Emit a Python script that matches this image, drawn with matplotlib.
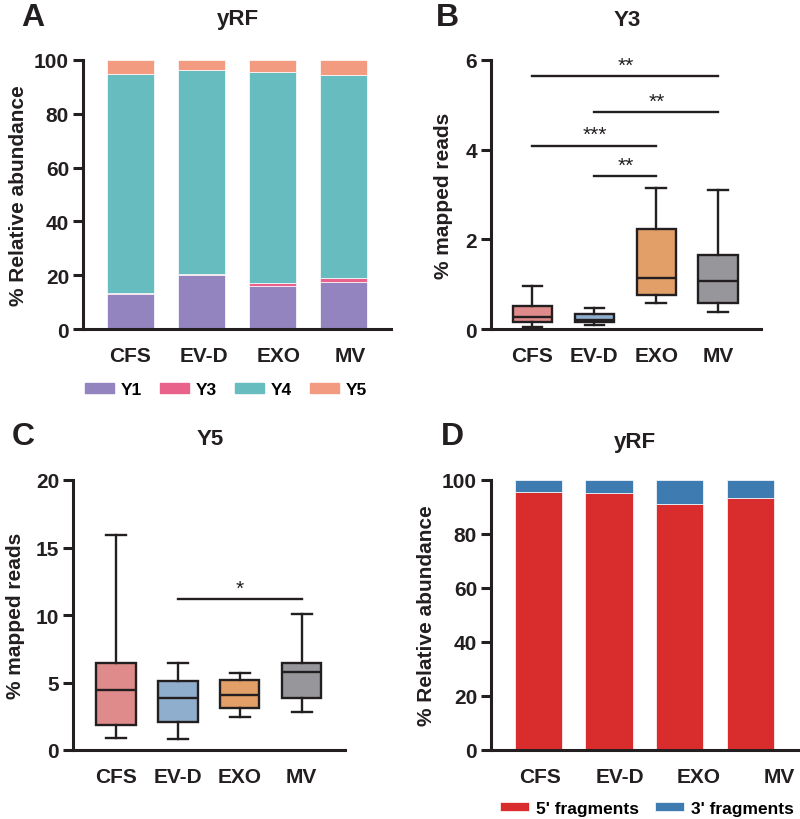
import numpy as np
import matplotlib.pyplot as plt
import matplotlib.patches as mpatches

plt.rcParams['font.family'] = ['Liberation Sans', 'DejaVu Sans']
plt.rcParams['font.weight'] = 'bold'
plt.rcParams['axes.labelweight'] = 'bold'

groups = ['CFS', 'EV-D', 'EXO', 'MV']

# panel A - yRF composition (%)
y1 = [13.0, 20.0, 15.9, 17.6]
y3 = [0.3, 0.4, 1.3, 1.4]
y4 = [81.5, 75.9, 78.5, 75.4]
y5 = [5.2, 3.7, 4.3, 5.6]

# panel B - Y3 % mapped reads (whislo, q1, med, q3, whishi)
y3_low = [0.05, 0.09, 0.58, 0.39]
y3_q1 = [0.16, 0.15, 0.76, 0.59]
y3_med = [0.26, 0.21, 1.13, 1.08]
y3_q3 = [0.51, 0.33, 2.23, 1.66]
y3_high = [0.95, 0.46, 3.14, 3.09]
y3_sig = [(0, 3, 5.65, '**'), (1, 3, 4.83, '**'), (0, 2, 4.09, '***'), (1, 2, 3.41, '**')]

# panel C - Y5 % mapped reads
y5_low = [0.87, 0.79, 2.47, 2.82]
y5_q1 = [1.83, 2.10, 3.09, 3.83]
y5_med = [4.43, 3.83, 4.10, 5.81]
y5_q3 = [6.48, 5.12, 5.19, 6.48]
y5_high = [15.95, 6.43, 5.74, 10.04]
y5_sig = [(1, 3, 11.17, '*')]

# panel D - 5' vs 3' fragments (%)
frag5 = [95.7, 95.2, 91.0, 93.2]
frag3 = [100 - v for v in frag5]

box_colors = ['#E08B8B', '#8FADCC', '#E39F68', '#97979B']
stack_colors = ['#9384BF', '#E9628C', '#67BCC0', '#F39B81']
frag_colors = ['#D92D2D', '#3E7BB0']

W, H = 800, 820
fig = plt.figure(figsize=(W / 100, H / 100), dpi=100)


def make_ax(l, r, top, bottom):
    return fig.add_axes([l / W, 1 - bottom / H, (r - l) / W, (bottom - top) / H])


def style(ax, ymax, step, ylabel):
    for s in ['top', 'right']:
        ax.spines[s].set_visible(False)
    for s in ['left', 'bottom']:
        ax.spines[s].set_linewidth(2.2)
        ax.spines[s].set_color('#231F20')
    ax.set_ylim(0, ymax)
    ax.set_yticks(np.arange(0, ymax + 0.001, step))
    ax.tick_params(axis='y', length=7, width=2.2, labelsize=15, pad=3, colors='#231F20')
    ax.tick_params(axis='x', length=0, labelsize=15, pad=12, colors='#231F20')
    ax.set_ylabel(ylabel, fontsize=15, color='#231F20')


def stats(lo, q1, med, q3, hi):
    return [dict(whislo=lo[i], q1=q1[i], med=med[i], q3=q3[i], whishi=hi[i], fliers=[])
            for i in range(len(lo))]


leg_kw = dict(ncol=4, frameon=False, fontsize=12.5, handlelength=1.65, handleheight=0.45,
              columnspacing=1.05, handletextpad=0.4)

x = np.arange(len(groups))

# ---- A
axA = make_ax(83, 391, 61, 330)
bottom = np.zeros(4)
handles = []
for vals, col, name in zip([y1, y3, y4, y5], stack_colors, ['Y1', 'Y3', 'Y4', 'Y5']):
    axA.bar(x, vals, 0.66, bottom=bottom, color=col, edgecolor='white', linewidth=0.5)
    bottom += np.array(vals)
    handles.append(mpatches.Patch(color=col, label=name))
style(axA, 100, 20, '% Relative abundance')
axA.set_xlim(-0.67, 3.67)
axA.set_xticks(x + np.array([0, 0.04, 0.08, 0.1]))
axA.set_xticklabels(groups)
axA.legend(handles=handles, loc='upper center', bbox_to_anchor=(0.465, -0.14), **leg_kw)
axA.yaxis.set_label_coords(-0.18, 0.5)

# ---- B and C box plots
def boxpanel(ax, st, ymax, step, sig):
    ax.bxp(st, positions=x, widths=0.64, patch_artist=True, showfliers=False,
           boxprops=dict(linewidth=1.7, edgecolor='#231F20'),
           medianprops=dict(color='#231F20', linewidth=1.7),
           whiskerprops=dict(color='#231F20', linewidth=1.7),
           capprops=dict(color='#231F20', linewidth=1.7), capwidths=0.32)
    for p, c in zip(ax.patches, box_colors):
        p.set_facecolor(c)
    style(ax, ymax, step, '% mapped reads')
    ax.set_xticks(x)
    ax.set_xticklabels(groups)
    for a, b, yv, txt in sig:
        ax.plot([a, b], [yv, yv], color='#231F20', lw=1.7, clip_on=False)
        ax.text((a + b) / 2, yv + ymax * 0.005, txt, ha='center', va='bottom',
                fontsize=15, fontweight='normal', color='#231F20')


axB = make_ax(491, 761, 61, 330)
boxpanel(axB, stats(y3_low, y3_q1, y3_med, y3_q3, y3_high), 6, 2, y3_sig)
axB.set_xlim(-0.67, 3.69)
axB.yaxis.set_label_coords(-0.14, 0.5)

axC = make_ax(73, 345, 481, 751)
boxpanel(axC, stats(y5_low, y5_q1, y5_med, y5_q3, y5_high), 20, 5, y5_sig)
axC.set_xlim(-0.69, 3.7)
axC.yaxis.set_label_coords(-0.175, 0.5)

# ---- D
axD = make_ax(491, 800, 481, 751)
axD.bar(x, frag5, 0.67, color=frag_colors[0], edgecolor='white', linewidth=0.5, label="5' fragments")
axD.bar(x, frag3, 0.67, bottom=frag5, color=frag_colors[1], edgecolor='white', linewidth=0.5,
        label="3' fragments")
style(axD, 100, 20, '% Relative abundance')
axD.set_xlim(-0.67, 3.7)
axD.set_xticks(x + np.array([0.03, 0.15, 0.27, 0.4]))
axD.set_xticklabels(groups)
axD.legend(loc='upper center', bbox_to_anchor=(0.505, -0.13), **dict(leg_kw, ncol=2, columnspacing=0.95))
axD.yaxis.set_label_coords(-0.178, 0.5)

# titles and panel letters
for xx, yy, t in [(238, 20, 'yRF'), (627, 20, 'Y3'), (210, 440, 'Y5'), (635, 443, 'yRF')]:
    fig.text(xx / W, 1 - yy / H, t, ha='center', va='center', fontsize=16, color='#231F20')
for xx, yy, t in [(33, 18, 'A'), (447, 18, 'B'), (23, 437, 'C'), (452, 437, 'D')]:
    fig.text(xx / W, 1 - yy / H, t, ha='center', va='center', fontsize=23, color='#231F20')

fig.savefig('out.png', dpi=100)
